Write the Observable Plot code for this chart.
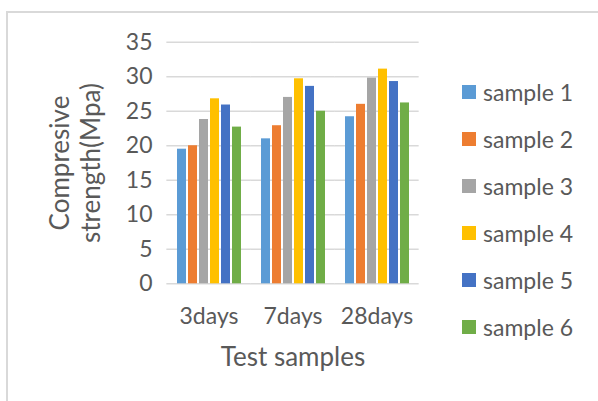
<!DOCTYPE html>
<html><head><meta charset="utf-8">
<script src="https://cdn.jsdelivr.net/npm/d3@7"></script>
<script src="https://cdn.jsdelivr.net/npm/@observablehq/plot@0.6"></script>
<style>
html,body{margin:0;padding:0;background:#fff;}
#chart{position:relative;width:598px;height:401px;overflow:hidden;font-family:Lato,sans-serif;color:#595959;}
#frame{position:absolute;left:6px;top:11px;width:600px;height:400px;border-top:2px solid #d9d9d9;border-left:2px solid #d9d9d9;}
#plot{position:absolute;left:0;top:0;}
#legend{position:absolute;left:0;top:0;}
.item{position:absolute;display:flex;align-items:center;height:28px;font-size:23px;white-space:nowrap;}
.sw{width:14px;height:14px;margin-right:7px;flex:none;}
</style></head><body>
<div id="chart"><div id="frame"></div><div id="plot"></div><div id="legend"></div></div>
<script>
const days = ["3days", "7days", "28days"];
const samples = ["sample 1", "sample 2", "sample 3", "sample 4", "sample 5", "sample 6"];
const colors = ["#5B9BD5", "#ED7D31", "#A5A5A5", "#FFC000", "#4472C4", "#70AD47"];
const sample1 = [19.5, 21.0, 24.2];
const sample2 = [20.0, 22.9, 26.0];
const sample3 = [23.8, 27.0, 29.8];
const sample4 = [26.8, 29.7, 31.1];
const sample5 = [25.9, 28.6, 29.3];
const sample6 = [22.7, 25.0, 26.2];
const yTicks = [0, 5, 10, 15, 20, 25, 30, 35];
const yLabel = "Compresive\nstrength(Mpa)";
const xLabel = "Test samples";

const series = [sample1, sample2, sample3, sample4, sample5, sample6];
const data = [];
days.forEach((d, i) => samples.forEach((s, j) => data.push({day: d, sample: s, value: series[j][i]})));

const W = 440, ML = 166, MR = 22;
const padIn = 0.23, padOut = 0.115;
const step = (W - ML - MR) / (days.length - padIn + 2 * padOut);
const halfGap = step * padIn / 2;

const plot = Plot.plot({
  width: W,
  height: 401,
  marginLeft: ML,
  marginRight: MR,
  marginTop: 41.7,
  marginBottom: 117.7,
  style: {fontFamily: "Lato, sans-serif", fontSize: "23px", color: "#595959", background: "transparent", overflow: "visible"},
  fx: {domain: days, paddingInner: padIn, paddingOuter: padOut, label: null, tickSize: 0, tickPadding: 24},
  x: {domain: samples, paddingInner: 0.2, paddingOuter: 0, axis: null},
  y: {domain: [0, 35], ticks: yTicks, tickSize: 0, tickPadding: 24, label: null},
  color: {domain: samples, range: colors},
  marks: [
    Plot.ruleY(yTicks, {stroke: "#d9d9d9", strokeWidth: 1.4, insetLeft: -halfGap, insetRight: -halfGap}),
    Plot.barY(data, {fx: "day", x: "sample", y: "value", fill: "sample"}),
    Plot.text([yLabel], {text: d => d, frameAnchor: "left", textAnchor: "middle", lineAnchor: "middle", dx: -102, rotate: -90, lineHeight: 1.19, fontSize: 26, fill: "#595959", facet: "super"}),
    Plot.text([xLabel], {text: d => d, frameAnchor: "bottom", textAnchor: "middle", lineAnchor: "bottom", dy: 82, fontSize: 26, fill: "#595959", facet: "super"})
  ]
});
document.getElementById("plot").appendChild(plot);

const legend = d3.select("#legend");
samples.forEach((s, i) => {
  const item = legend.append("div").attr("class", "item")
    .style("left", "462px").style("top", (91.7 - 14 + 47 * i) + "px");
  item.append("div").attr("class", "sw").style("background", colors[i]);
  item.append("span").text(s);
});
</script>
</body></html>
